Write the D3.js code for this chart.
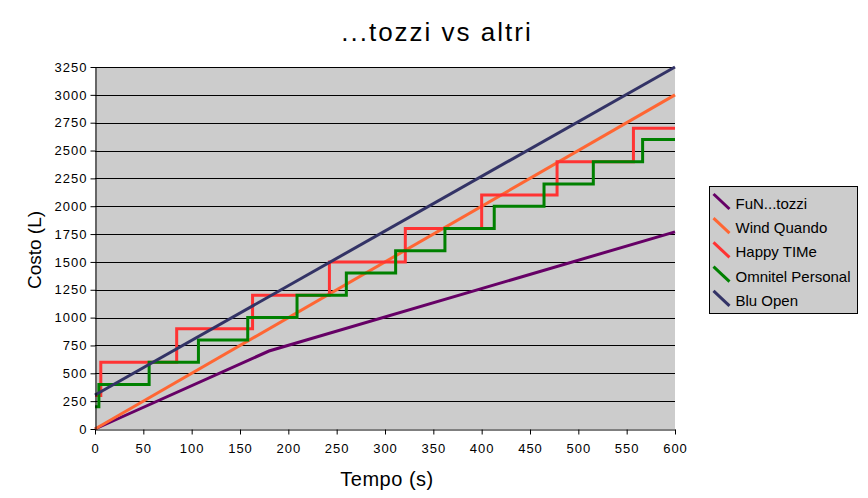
<!DOCTYPE html>
<html>
<head>
<meta charset="utf-8">
<script src="https://cdn.jsdelivr.net/npm/d3@7"></script>
<style>
  body { margin: 0; background: #fff; }
  text { font-family: "Liberation Sans", Arial, sans-serif; fill: #000; }
</style>
</head>
<body>
<div id="chart"></div>
<script>
// data: [seconds, lire]
const seriesNames = ["FuN...tozzi", "Wind Quando", "Happy TIMe", "Omnitel Personal", "Blu Open"];
const seriesColors = ["#660066", "#ff6633", "#ff3333", "#008000", "#333366"];

const funTozzi = [[0, 0], [180, 700], [600, 1770]];
const windQuando = [[0, 0], [600, 3000]];
const bluOpen = [[0, 305], [600, 3250]];

// step functions: time of each jump and the level reached
const happyStart = 300;
const happyJumps = [6, 84.5, 163, 242.5, 321, 400, 478, 557];
const happyLevels = [600, 900, 1200, 1500, 1800, 2100, 2400, 2700];

const omniStart = 200;
const omniJumps = [4, 56, 107, 158, 209, 260, 311, 362, 413, 464.5, 515.5, 566.5];
const omniLevels = [400, 600, 800, 1000, 1200, 1400, 1600, 1800, 2000, 2200, 2400, 2600];

const xTicks = d3.range(0, 601, 50);
const yTicks = d3.range(0, 3251, 250);

function steps(start, jumps, levels) {
  const pts = [[0, start]];
  let cur = start;
  jumps.forEach((t, i) => {
    pts.push([t, cur]);
    cur = levels[i];
    pts.push([t, cur]);
  });
  pts.push([600, cur]);
  return pts;
}

const seriesData = [
  funTozzi,
  windQuando,
  steps(happyStart, happyJumps, happyLevels),
  steps(omniStart, omniJumps, omniLevels),
  bluOpen
];

const W = 868, H = 498;
const margin = { left: 95, right: 193, top: 67, bottom: 69 };

const svg = d3.select('#chart').append('svg')
  .attr('width', W)
  .attr('height', H);

const x = d3.scaleLinear().domain([0, 600]).range([margin.left, W - margin.right]);
const y = d3.scaleLinear().domain([0, 3250]).range([H - margin.bottom, margin.top]);

// plot background
svg.append('rect')
  .attr('x', x(0)).attr('y', y(3250))
  .attr('width', x(600) - x(0)).attr('height', y(0) - y(3250))
  .attr('fill', '#cccccc');

// grid
svg.append('g')
  .selectAll('line').data(yTicks.filter(d => d > 0))
  .enter().append('line')
    .attr('x1', x(0)).attr('x2', x(600))
    .attr('y1', d => Math.round(y(d)) + 0.5).attr('y2', d => Math.round(y(d)) + 0.5)
    .attr('stroke', '#000').attr('stroke-width', 1);

// series
const line = d3.line().x(d => x(d[0])).y(d => y(d[1]));
seriesData.forEach((pts, i) => {
  svg.append('path')
    .attr('d', line(pts))
    .attr('fill', 'none')
    .attr('stroke', seriesColors[i])
    .attr('stroke-width', 3)
    .attr('stroke-linejoin', 'miter');
});

// axes
const xAxis = svg.append('g')
  .attr('transform', `translate(0,${Math.round(y(0)) + 0.5})`)
  .call(d3.axisBottom(x).tickValues(xTicks).tickFormat(d3.format('d'))
    .tickSize(5).tickPadding(9).tickSizeOuter(0));
const yAxis = svg.append('g')
  .attr('transform', `translate(${Math.round(x(0)) + 0.5},0)`)
  .call(d3.axisLeft(y).tickValues(yTicks).tickFormat(d3.format('d'))
    .tickSize(5).tickPadding(4).tickSizeOuter(0));

[xAxis, yAxis].forEach(a => {
  a.selectAll('path, line').attr('stroke', '#000');
  a.selectAll('text')
    .attr('font-family', '"Liberation Sans", Arial, sans-serif')
    .attr('font-size', 13)
    .attr('letter-spacing', 1)
    .attr('fill', '#000');
});
yAxis.selectAll('text').attr('dx', 1);

// titles
svg.append('text')
  .attr('x', 437).attr('y', 41)
  .attr('text-anchor', 'middle')
  .attr('font-size', 26)
  .attr('letter-spacing', 2)
  .text('...tozzi vs altri');

svg.append('text')
  .attr('x', 387).attr('y', 486)
  .attr('text-anchor', 'middle')
  .attr('font-size', 20)
  .attr('letter-spacing', 0.5)
  .text('Tempo (s)');

svg.append('text')
  .attr('transform', 'translate(41,250) rotate(-90)')
  .attr('text-anchor', 'middle')
  .attr('font-size', 19)
  .text('Costo (L)');

// legend
const legend = svg.append('g').attr('transform', 'translate(709.5,186.5)');
legend.append('rect')
  .attr('width', 148).attr('height', 127)
  .attr('fill', '#cccccc').attr('stroke', '#000');

seriesNames.forEach((name, i) => {
  const g = legend.append('g').attr('transform', `translate(0,${22.5 + i * 24.2})`);
  g.append('line')
    .attr('x1', 4).attr('y1', -15).attr('x2', 20).attr('y2', 0)
    .attr('stroke', seriesColors[i]).attr('stroke-width', 3);
  g.append('text')
    .attr('x', 26).attr('y', 0)
    .attr('font-size', 15)
    .text(name);
});
</script>
</body>
</html>
